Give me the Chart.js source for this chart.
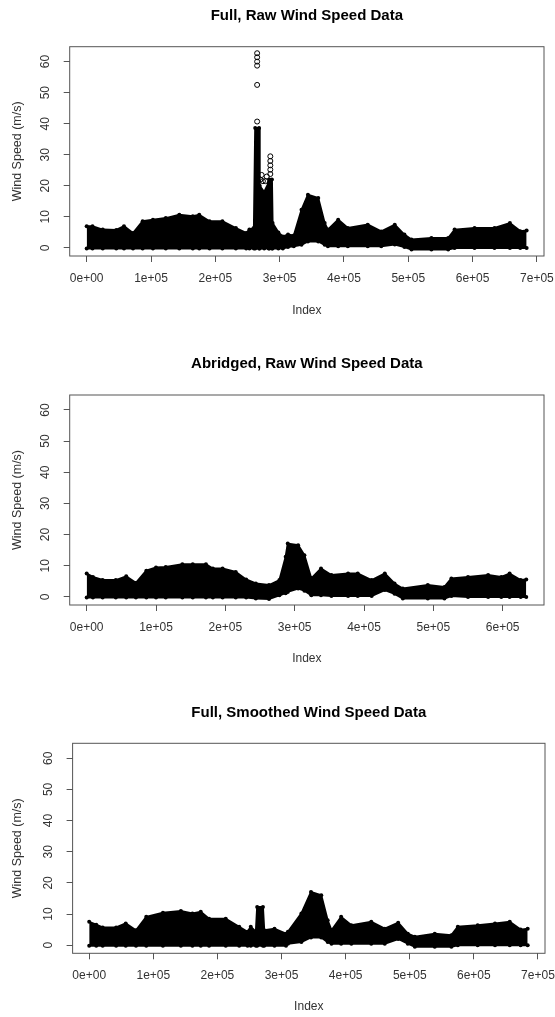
<!DOCTYPE html>
<html>
<head>
<meta charset="utf-8">
<title>Wind Speed Data</title>
<script src="https://cdn.jsdelivr.net/npm/chart.js@4.4.1/dist/chart.umd.min.js"></script>
<style>
  body { margin: 0; width: 555px; height: 1017px; overflow: hidden; background: #fff; position: relative; }
  canvas { position: absolute; left: 0; }
</style>
</head>
<body>
<canvas id="c1" width="555" height="340" style="top:0px"></canvas>
<canvas id="c2" width="555" height="340" style="top:348px"></canvas>
<canvas id="c3" width="555" height="340" style="top:697px"></canvas>
<script>
// axis ticks
const yTicks = [0, 10, 20, 30, 40, 50, 60];
const xTicksFull = [0, 100000, 200000, 300000, 400000, 500000, 600000, 700000];
const xTicksAbr = [0, 100000, 200000, 300000, 400000, 500000, 600000];

// Full, raw: index + top / bottom edge of the point cloud (m/s)
const rawIdx = [0, 9000, 25000, 46000, 58000, 72000, 87000, 103000, 123000, 144000,
  165000, 175000, 191000, 211000, 232000, 248000, 253000, 260000, 262000, 268000,
  269000, 276000, 283000, 284000, 288000, 289000, 298000, 305000, 313000, 322000,
  334000, 344000, 360000, 370000, 375000, 391000, 406000, 437000, 458000, 479000,
  494000, 505000, 536000, 562000, 572000, 603000, 634000, 658000, 674000, 684000];
const rawHigh = [7.0, 7.0, 5.9, 5.8, 7.0, 4.8, 8.6, 9.1, 9.6, 10.7,
  10.2, 10.7, 8.6, 8.6, 6.4, 4.8, 5.9, 6.5, 38.6, 38.6,
  20, 18, 21, 22, 22, 8, 5, 3.7, 4.3, 4.0,
  12.3, 17.1, 16.1, 8.0, 5.9, 9.1, 6.4, 7.5, 5.3, 7.5,
  4.3, 2.7, 3.2, 3.2, 5.9, 6.4, 6.4, 8.0, 5.4, 5.6];
const rawLow = [-0.2, -0.2, -0.2, -0.2, -0.2, -0.2, -0.2, -0.2, -0.2, -0.2,
  -0.2, -0.2, -0.2, -0.2, -0.2, -0.2, -0.2, -0.2, -0.2, -0.2,
  -0.2, -0.2, -0.2, -0.2, -0.2, -0.2, -0.2, -0.2, 0.3, 0.5,
  1.0, 2.1, 2.1, 1.0, 0.5, 0.5, 0.5, 0.5, 0.5, 1.1,
  0.3, -0.5, -0.5, -0.5, 0, 0, 0, 0, 0, 0];
// loose points around the spike
const spikeIdx = [265000, 265000, 265000, 265000, 265000, 265000, 285500, 285500, 285500, 285500, 285500, 270000, 272000, 274000, 278000, 280000];
const spikeVal = [62.7, 61.4, 60.0, 58.7, 52.5, 40.7, 29.5, 28.0, 26.6, 25.2, 23.8, 22.0, 23.5, 21.5, 21.5, 23.0];

// Abridged, raw
const abrIdx = [0, 9000, 23000, 42000, 57000, 71000, 86000, 100000, 114000, 138000,
  153000, 172000, 182000, 196000, 215000, 230000, 244000, 263000, 278000, 287000,
  290000, 305000, 314000, 324000, 338000, 353000, 377000, 391000, 411000, 430000,
  444000, 456000, 492000, 516000, 526000, 550000, 579000, 598000, 610000, 626000, 634000];
const abrHigh = [7.5, 6.4, 5.4, 5.4, 6.6, 4.5, 8.4, 9.4, 9.6, 10.5,
  10.5, 10.5, 9.1, 9.1, 8.0, 5.6, 4.3, 3.8, 5.4, 12.9,
  17.1, 16.6, 13.4, 5.9, 9.1, 7.0, 7.5, 7.5, 5.4, 7.5,
  4.3, 2.7, 3.8, 3.2, 5.9, 6.4, 7.0, 6.4, 7.5, 5.4, 5.6];
const abrLow = [-0.2, -0.2, -0.2, -0.2, -0.2, -0.2, -0.2, -0.2, -0.2, -0.2,
  -0.2, -0.2, -0.2, -0.2, -0.2, -0.2, -0.5, -0.7, 0.5, 1.2,
  1.6, 2.7, 2.0, 0.5, 0.5, 0.3, 0.3, 0.3, 0.3, 2.2,
  1.0, -0.5, -0.5, -0.5, 0.3, 0, 0, 0, 0, 0, 0];

// Full, smoothed
const smIdx = [0, 11000, 21000, 42000, 57000, 73000, 89000, 115000, 143000, 161000,
  174000, 187000, 213000, 234000, 247000, 252000, 260000, 262000, 271000, 273000,
  289000, 307000, 310000, 331000, 346000, 362000, 372000, 378000, 393000, 409000,
  440000, 461000, 482000, 497000, 508000, 539000, 565000, 575000, 606000, 633000,
  656000, 673000, 684000];
const smHigh = [7.5, 6.6, 5.7, 5.7, 7.0, 4.8, 9.1, 10.4, 11.0, 10.2,
  10.7, 8.5, 8.5, 5.9, 4.3, 5.9, 4.3, 12.3, 12.3, 4.8,
  5.3, 3.7, 4.3, 10.2, 17.1, 16.0, 8.0, 4.8, 9.1, 6.4,
  7.5, 5.3, 7.2, 3.7, 2.7, 3.7, 3.2, 5.9, 6.4, 7.0,
  7.5, 5.0, 5.3];
const smLow = [-0.2, -0.2, -0.2, -0.2, -0.2, -0.2, -0.2, -0.2, -0.2, -0.2,
  -0.2, -0.2, -0.2, -0.2, -0.2, -0.2, -0.2, -0.2, -0.2, -0.2,
  -0.2, -0.2, 0.5, 1.0, 2.5, 2.5, 1.0, 0.5, 0.5, 0.5,
  0.5, 0.5, 2.0, 0.5, -0.5, -0.5, -0.5, 0, 0, 0,
  0, 0, 0];

const FONT = '"Liberation Sans", Arial, sans-serif';

// R style labels: 0e+00, 1e+05 ...
function sci(v) {
  const parts = Number(v).toExponential().split('e');
  return parts[0] + 'e' + parts[1][0] + parts[1].slice(1).padStart(2, '0');
}

function pts(xs, ys) {
  return xs.map((x, i) => ({ x: x, y: ys[i] }));
}

// box round the plot region + rotated y tick labels
const rFrame = {
  id: 'rFrame',
  afterDatasetsDraw(chart) {
    const a = chart.chartArea, ctx = chart.ctx, ys = chart.scales.y;
    ctx.save();
    ctx.strokeStyle = '#555';
    ctx.lineWidth = 1;
    ctx.strokeRect(a.left, a.top, a.right - a.left, a.bottom - a.top);
    ctx.fillStyle = '#333';
    ctx.font = '12px ' + FONT;
    ctx.textAlign = 'center';
    ctx.textBaseline = 'middle';
    yTicks.forEach(function (v) {
      ctx.save();
      ctx.translate(a.left - 24, ys.getPixelForValue(v));
      ctx.rotate(-Math.PI / 2);
      ctx.fillText(String(v), 0, 0);
      ctx.restore();
    });
    ctx.restore();
  }
};

function makePanel(id, title, idx, high, low, xTicks, box, extra) {
  const edge = { showLine: true, borderColor: '#000', borderWidth: 2, pointRadius: 2, pointBackgroundColor: '#000', pointBorderWidth: 0, tension: 0 };
  const datasets = [
    Object.assign({ data: pts(idx, high), fill: '+1', backgroundColor: '#000' }, edge),
    Object.assign({ data: pts(idx, low), fill: false }, edge)
  ];
  if (extra) {
    datasets.push({ data: pts(extra[0], extra[1]), showLine: false, pointRadius: 2.5, pointStyle: 'circle', backgroundColor: 'rgba(0,0,0,0)', borderColor: '#000', borderWidth: 1 });
  }
  return new Chart(document.getElementById(id), {
    type: 'scatter',
    data: { datasets: datasets },
    plugins: [rFrame],
    options: {
      responsive: false,
      animation: false,
      devicePixelRatio: 1,
      events: [],
      layout: { padding: { left: 0, right: 555 - box.right, top: 0, bottom: 0 } },
      plugins: {
        legend: { display: false },
        tooltip: { enabled: false },
        title: {
          display: true, text: title, fullSize: false, color: '#000',
          font: { family: FONT, size: 15, weight: 'bold' },
          padding: { top: 7, bottom: box.top - 7 - 18 }
        }
      },
      scales: {
        x: {
          type: 'linear', position: 'bottom', min: box.xmin, max: box.xmax,
          afterBuildTicks: s => { s.ticks = xTicks.map(v => ({ value: v })); },
          afterFit: s => { s.height = 340 - box.bottom; s.paddingLeft = 0; s.paddingRight = 0; },
          grid: { drawOnChartArea: false, drawTicks: true, tickLength: 6, color: '#555' },
          border: { display: false },
          ticks: { autoSkip: false, maxRotation: 0, padding: 9, color: '#333', font: { family: FONT, size: 12 }, callback: v => sci(v) },
          title: { display: true, text: 'Index', color: '#333', font: { family: FONT, size: 12 }, padding: { top: 0, bottom: box.idxPad } }
        },
        y: {
          position: 'left', min: -2.6, max: 64.8,
          afterBuildTicks: s => { s.ticks = yTicks.map(v => ({ value: v })); },
          afterFit: s => { s.width = box.left; s.paddingTop = 0; s.paddingBottom = 0; },
          grid: { drawOnChartArea: false, drawTicks: true, tickLength: 6, color: '#555' },
          border: { display: false },
          ticks: { display: false },
          title: { display: true, text: 'Wind Speed (m/s)', color: '#333', font: { family: FONT, size: 12.5 }, padding: { top: 10, bottom: 0 } }
        }
      }
    }
  });
}

makePanel('c1', 'Full, Raw Wind Speed Data', rawIdx, rawHigh, rawLow, xTicksFull,
  { left: 69.7, right: 544, top: 46.7, bottom: 256, xmin: -26400, xmax: 711000, idxPad: 21.8 },
  [spikeIdx, spikeVal]);
makePanel('c2', 'Abridged, Raw Wind Speed Data', abrIdx, abrHigh, abrLow, xTicksAbr,
  { left: 69.7, right: 544, top: 47, bottom: 257, xmin: -24500, xmax: 659600, idxPad: 21.8 });
makePanel('c3', 'Full, Smoothed Wind Speed Data', smIdx, smHigh, smLow, xTicksFull,
  { left: 72.6, right: 545, top: 46.3, bottom: 256.3, xmin: -25900, xmax: 711000, idxPad: 23 });
</script>
</body>
</html>
